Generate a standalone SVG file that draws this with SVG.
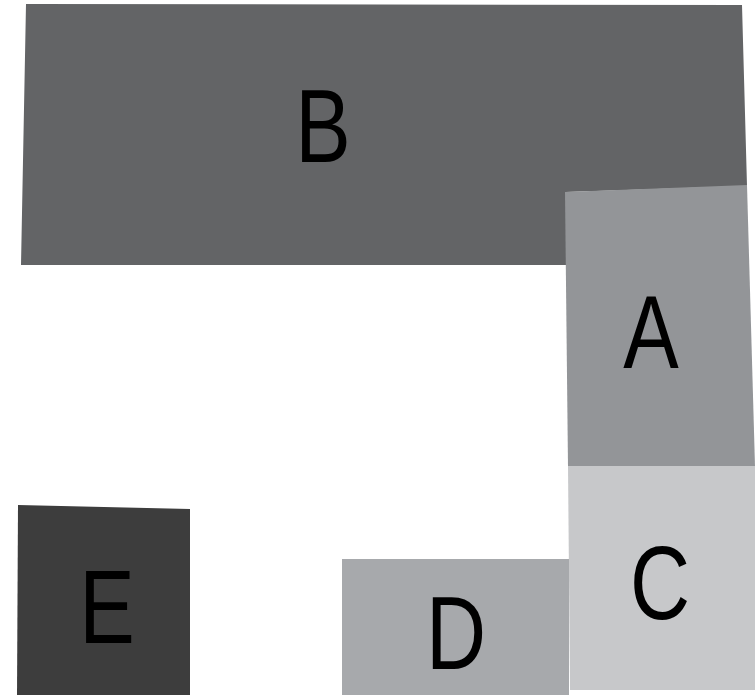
<svg xmlns="http://www.w3.org/2000/svg" width="756" height="695" viewBox="0 0 756 695">
<style>
.lbl{font-family:"Liberation Sans",Arial,sans-serif;font-size:104px;fill:#000;text-anchor:middle}
</style>
<rect width="756" height="695" fill="#fff"/>
<g id="B"><polygon points="26,4 742,5 747,186 566,192 566,265 21,265" fill="#636466"/><text class="lbl" transform="translate(323,162) scale(0.8,1)">B</text></g>
<g id="A"><polygon points="565,192 747,185 755,466 568,466" fill="#939598"/><text class="lbl" transform="translate(651,368) scale(0.8,1)">A</text></g>
<g id="C"><polygon points="568,466 755,466 755,690 570,690" fill="#c7c8ca"/><text class="lbl" transform="translate(660,619) scale(0.8,1)">C</text></g>
<g id="D"><polygon points="342,559 569,559 569,695 342,695" fill="#a7a9ac"/><text class="lbl" transform="translate(456,669) scale(0.8,1)">D</text></g>
<g id="E"><polygon points="18,505 190,509 190,695 17,695" fill="#3d3d3d"/><text class="lbl" transform="translate(107,643) scale(0.8,1)">E</text></g>
<g id="connectors"></g>
</svg>
